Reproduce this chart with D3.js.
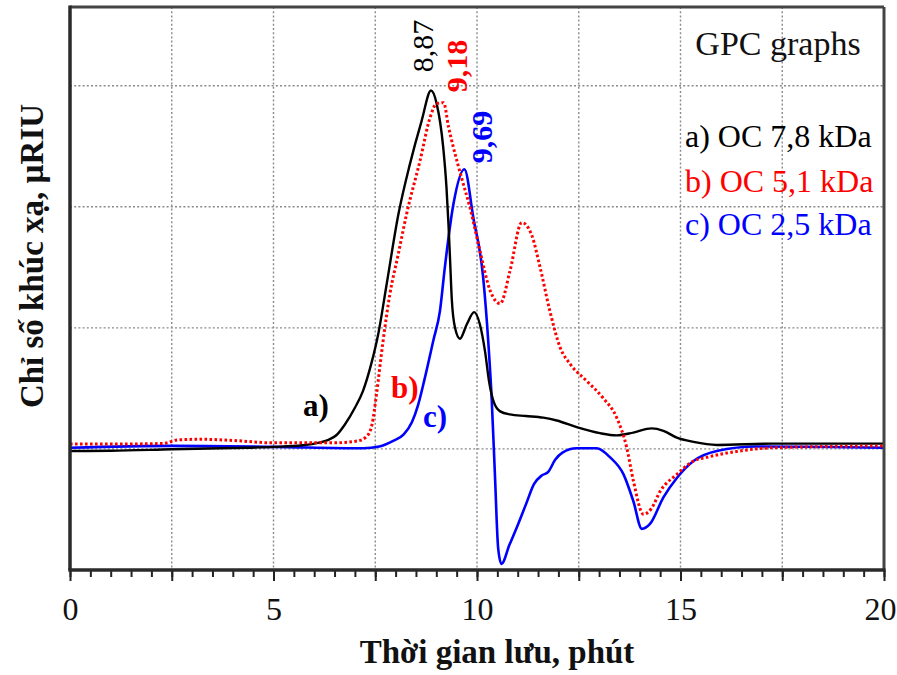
<!DOCTYPE html>
<html>
<head>
<meta charset="utf-8">
<script src="https://cdn.jsdelivr.net/npm/d3@7"></script>
<style>
  html, body { margin: 0; padding: 0; background: #fff; }
  svg { display: block; }
  text { font-family: "Liberation Serif", "Times New Roman", serif; }
</style>
</head>
<body>
<svg id="chart" width="897" height="675"></svg>
<script>
// Retention time (min) vs refractive index signal for three oligochitosan samples
const seriesA = [ // a) OC 7,8 kDa
  [0,-0.017],[1,-0.015],[2.5,-0.003],[4,0.008],[5,0.017],[5.7,0.03],[6.1,0.05],[6.35,0.075],
  [6.55,0.115],[6.75,0.2],[7.0,0.34],[7.2,0.48],[7.4,0.7],[7.58,0.96],[7.78,1.36],[8.07,1.94],
  [8.35,2.35],[8.64,2.71],[8.87,2.96],[9.01,2.85],[9.17,2.49],[9.25,2.16],[9.3,1.85],[9.34,1.55],
  [9.38,1.24],[9.46,1.0],[9.58,0.91],[9.75,1.03],[9.93,1.13],[10.07,1.03],[10.2,0.8],[10.3,0.55],
  [10.42,0.38],[10.57,0.31],[10.81,0.285],[11.2,0.272],[11.63,0.258],[11.96,0.235],[12.45,0.18],
  [13.02,0.13],[13.43,0.112],[13.84,0.135],[14.29,0.17],[14.58,0.15],[14.91,0.093],[15.32,0.058],
  [15.89,0.033],[17.27,0.044],[20,0.044]
];
const seriesB = [ // b) OC 5,1 kDa
  [0,0.04],[1,0.04],[2.3,0.045],[2.65,0.075],[3.2,0.08],[4.0,0.07],[5,0.05],[6.47,0.05],
  [7.05,0.065],[7.28,0.1],[7.42,0.2],[7.53,0.45],[7.68,0.86],[7.86,1.28],[8.06,1.6],[8.27,1.94],
  [8.6,2.38],[8.85,2.74],[9.0,2.85],[9.18,2.86],[9.3,2.66],[9.42,2.49],[9.62,2.24],[9.83,1.99],
  [10.07,1.64],[10.32,1.31],[10.57,1.2],[10.81,1.47],[11.1,1.87],[11.34,1.77],[11.55,1.5],
  [11.79,1.14],[12.04,0.84],[12.29,0.7],[12.7,0.56],[13.1,0.42],[13.43,0.26],[13.68,0.01],
  [13.84,-0.26],[14.09,-0.54],[14.29,-0.49],[14.5,-0.35],[14.91,-0.21],[15.32,-0.1],
  [15.64,-0.07],[16.46,-0.017],[17.28,0.01],[20,0.025]
];
const seriesC = [ // c) OC 2,5 kDa
  [0,0.01],[2.5,0.025],[5,0.017],[7.2,0.006],[7.6,0.02],[7.94,0.066],[8.2,0.12],[8.4,0.22],
  [8.55,0.36],[8.7,0.56],[8.93,0.9],[9.09,1.14],[9.21,1.5],[9.42,2.02],[9.69,2.31],[9.91,1.91],
  [10.15,1.42],[10.28,0.87],[10.36,0.42],[10.44,-0.21],[10.52,-0.82],[10.6,-0.95],[10.8,-0.79],
  [11.0,-0.63],[11.2,-0.46],[11.4,-0.29],[11.59,-0.22],[11.75,-0.19],[11.92,-0.09],
  [12.1,-0.03],[12.45,0.005],[12.94,0.005],[13.27,-0.07],[13.6,-0.21],[13.84,-0.43],
  [14.05,-0.66],[14.25,-0.62],[14.58,-0.4],[14.91,-0.24],[15.32,-0.1],[15.89,-0.017],
  [16.87,0.02],[20,0.01]
];

const xTicksMinor = d3.range(0, 20.001, 0.5);
const xTicksMajor = [0, 2.5, 5, 7.5, 10, 12.5, 15, 17.5, 20];
const xTickLabels = [0, 5, 10, 15, 20];
const yGrid = [0, 1, 2, 3];

const peakLabels = ["8,87", "9,18", "9,69"];
const curveTags = ["a)", "b)", "c)"];
const legendTitle = "GPC graphs";
const legendNames = ["a) OC 7,8 kDa", "b) OC 5,1 kDa", "c) OC 2,5 kDa"];
const colors = ["#000000", "#ff0000", "#0000ff"];
const xTitle = "Thời gian lưu, phút";
const yTitle = "Chỉ số khúc xạ, µRIU";

const svg = d3.select("#chart");
const pLeft = 70, pRight = 884, pTop = 7, pBottom = 570;

const x = d3.scaleLinear().domain([0, 20]).range([pLeft, pRight]);
const y = d3.scaleLinear().domain([-1, 3.65]).range([pBottom, pTop]);

// dotted grid
const grid = svg.append("g").attr("stroke", "#8a8a8a").attr("stroke-width", 1.4)
  .attr("stroke-dasharray", "2,2.2");
grid.selectAll("line.v").data(xTicksMajor.filter(d => d > 0 && d < 20)).join("line")
  .attr("class", "v").attr("x1", d => x(d)).attr("x2", d => x(d))
  .attr("y1", pTop).attr("y2", pBottom);
grid.selectAll("line.h").data(yGrid).join("line")
  .attr("class", "h").attr("y1", d => y(d)).attr("y2", d => y(d))
  .attr("x1", pLeft).attr("x2", pRight);

// series
const line = d3.line().x(d => x(d[0])).y(d => y(d[1])).curve(d3.curveMonotoneX);
const plot = svg.append("g");
plot.append("path").datum(seriesC).attr("d", line)
  .attr("fill", "none").attr("stroke", colors[2]).attr("stroke-width", 2.6);
plot.append("path").datum(seriesA).attr("d", line)
  .attr("fill", "none").attr("stroke", colors[0]).attr("stroke-width", 2.4);
plot.append("path").datum(seriesB).attr("d", line)
  .attr("fill", "none").attr("stroke", colors[1]).attr("stroke-width", 3)
  .attr("stroke-dasharray", "2.6,2.4");

// frame
svg.append("line").attr("x1", pLeft).attr("x2", pRight).attr("y1", pTop).attr("y2", pTop)
  .attr("stroke", "#444").attr("stroke-width", 3);
svg.append("line").attr("x1", pRight).attr("x2", pRight).attr("y1", pTop).attr("y2", pBottom)
  .attr("stroke", "#444").attr("stroke-width", 3);
svg.append("line").attr("x1", pLeft).attr("x2", pLeft).attr("y1", pTop - 1.5).attr("y2", pBottom)
  .attr("stroke", "#2a2a2a").attr("stroke-width", 3.5);

// x axis: minor and major ticks
const axMinor = svg.append("g").attr("transform", `translate(0,${pBottom})`)
  .call(d3.axisBottom(x).tickValues(xTicksMinor).tickSize(7).tickSizeOuter(0).tickFormat(""));
axMinor.selectAll(".tick line").attr("stroke", "#222").attr("stroke-width", 2);
axMinor.select(".domain").remove();

const axMajor = svg.append("g").attr("transform", `translate(0,${pBottom})`)
  .call(d3.axisBottom(x).tickValues(xTicksMajor).tickSize(11).tickSizeOuter(0)
    .tickFormat(d => xTickLabels.includes(d) ? String(d) : ""));
axMajor.selectAll(".tick line").attr("stroke", "#222").attr("stroke-width", 2);
axMajor.select(".domain").remove();
axMajor.selectAll(".tick text")
  .attr("y", 50).attr("dy", 0)
  .attr("font-family", "Liberation Serif, serif").attr("font-size", 32)
  .attr("fill", "#111");
// last label sits against the right edge of the figure
axMajor.selectAll(".tick text").filter(d => d === 20)
  .attr("text-anchor", "end").attr("x", 12);

svg.append("line").attr("x1", pLeft - 1.75).attr("x2", pRight + 1.5).attr("y1", pBottom).attr("y2", pBottom)
  .attr("stroke", "#2a2a2a").attr("stroke-width", 3.5);

// axis titles
svg.append("text").attr("x", 497).attr("y", 663).attr("text-anchor", "middle")
  .attr("font-size", 33).attr("font-weight", "bold").attr("fill", "#111").text(xTitle);
svg.append("text").attr("transform", "translate(43,256) rotate(-90)").attr("text-anchor", "middle")
  .attr("font-size", 33).attr("font-weight", "bold").attr("fill", "#111").text(yTitle);

// peak retention time labels
const peakPos = [[433, 46, "normal"], [467, 66, "bold"], [492, 137, "bold"]];
peakLabels.forEach((t, i) => {
  svg.append("text")
    .attr("transform", `translate(${peakPos[i][0]},${peakPos[i][1]}) rotate(-90)`)
    .attr("text-anchor", "middle").attr("font-size", 30)
    .attr("font-weight", peakPos[i][2]).attr("fill", colors[i]).text(t);
});

// curve tags
const tagPos = [[303, 416], [391, 398], [423, 427]];
curveTags.forEach((t, i) => {
  svg.append("text").attr("x", tagPos[i][0]).attr("y", tagPos[i][1])
    .attr("font-size", 31).attr("font-weight", "bold").attr("fill", colors[i]).text(t);
});

// legend
svg.append("text").attr("x", 778).attr("y", 55).attr("text-anchor", "middle")
  .attr("font-size", 34).attr("fill", "#111").text(legendTitle);
const legendY = [147, 192, 235];
legendNames.forEach((t, i) => {
  svg.append("text").attr("x", 685).attr("y", legendY[i])
    .attr("font-size", 32).attr("fill", colors[i]).text(t);
});
</script>
</body>
</html>
